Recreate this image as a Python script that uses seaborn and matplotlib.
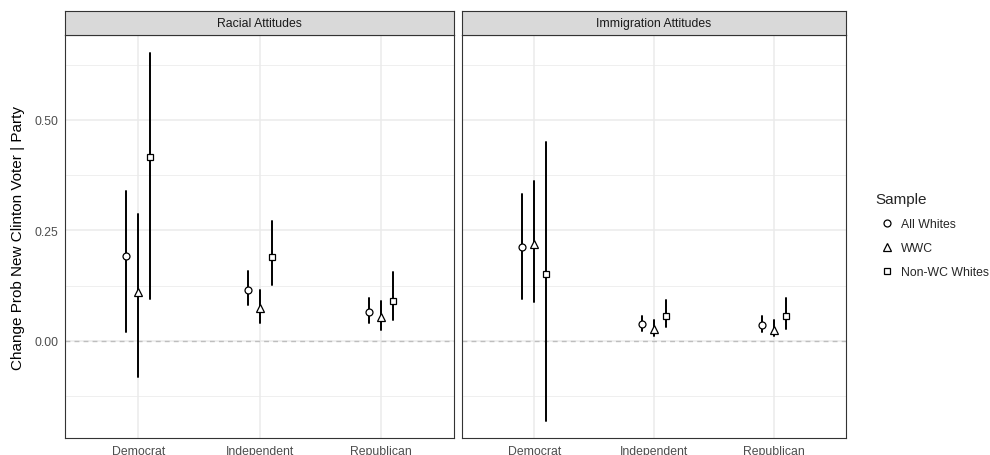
import numpy as np
import pandas as pd
import matplotlib
matplotlib.use("Agg")
import matplotlib.pyplot as plt
from matplotlib.lines import Line2D
import seaborn as sns

# ---- data -----------------------------------------------------------------
parties = ["Democrat", "Independent", "Republican"]
samples = ["All Whites", "WWC", "Non-WC Whites"]
panels = ["Racial Attitudes", "Immigration Attitudes"]

# Racial attitudes: estimate and 95% interval, ordered by party
racial_est_all = [0.192, 0.116, 0.066]
racial_lo_all = [0.020, 0.082, 0.040]
racial_hi_all = [0.339, 0.157, 0.097]
racial_est_wwc = [0.111, 0.075, 0.053]
racial_lo_wwc = [-0.081, 0.041, 0.024]
racial_hi_wwc = [0.287, 0.116, 0.090]
racial_est_nonwc = [0.417, 0.189, 0.091]
racial_lo_nonwc = [0.094, 0.126, 0.047]
racial_hi_nonwc = [0.652, 0.270, 0.155]

# Immigration attitudes
immig_est_all = [0.212, 0.038, 0.036]
immig_lo_all = [0.094, 0.022, 0.019]
immig_hi_all = [0.332, 0.057, 0.055]
immig_est_wwc = [0.219, 0.026, 0.025]
immig_lo_wwc = [0.087, 0.010, 0.010]
immig_hi_wwc = [0.362, 0.048, 0.047]
immig_est_nonwc = [0.151, 0.057, 0.057]
immig_lo_nonwc = [-0.181, 0.032, 0.026]
immig_hi_nonwc = [0.450, 0.092, 0.097]

y_ticks = [0.0, 0.25, 0.5]
y_ticklabels = ["0.00", "0.25", "0.50"]
y_label = "Change Prob New Clinton Voter | Party"

# Long table: lower bound, estimate and upper bound per group, so that the
# median is the estimate and the full percentile range is the interval.
tables = {
    "Racial Attitudes": {
        "All Whites": (racial_lo_all, racial_est_all, racial_hi_all),
        "WWC": (racial_lo_wwc, racial_est_wwc, racial_hi_wwc),
        "Non-WC Whites": (racial_lo_nonwc, racial_est_nonwc, racial_hi_nonwc),
    },
    "Immigration Attitudes": {
        "All Whites": (immig_lo_all, immig_est_all, immig_hi_all),
        "WWC": (immig_lo_wwc, immig_est_wwc, immig_hi_wwc),
        "Non-WC Whites": (immig_lo_nonwc, immig_est_nonwc, immig_hi_nonwc),
    },
}
rows = []
for panel in panels:
    for sample in samples:
        lo, est, hi = tables[panel][sample]
        for p, l, e, h in zip(parties, lo, est, hi):
            for v in (l, e, h):
                rows.append({"Panel": panel, "Sample": sample, "Party": p, "Change": v})
df = pd.DataFrame(rows)

# ---- style ----------------------------------------------------------------
sns.set_theme(style="white")
plt.rcParams["font.family"] = ["Liberation Sans", "DejaVu Sans"]

W, H = 990, 456
fig = plt.figure(figsize=(W / 100, H / 100), dpi=100)


def fig_box(x0, y0, x1, y1):
    return [x0 / W, 1 - y1 / H, (x1 - x0) / W, (y1 - y0) / H]


panel_px = [(65.3, 36, 454, 439), (462.3, 36, 845.7, 439)]
strip_top = 12
markers = ["o", "^", "s"]
marker_sizes = {"o": 5.0, "^": 6.2, "s": 4.4}
dark = "#333333"

for i, (panel, (x0, y0, x1, y1)) in enumerate(zip(panels, panel_px)):
    ax = fig.add_axes(fig_box(x0, y0, x1, y1))
    sub = df[df["Panel"] == panel]

    ax.axhline(0, color="#BEBEBE", lw=1.0, dashes=(3.5, 3), zorder=1)
    sns.pointplot(
        data=sub, x="Party", y="Change", hue="Sample",
        order=parties, hue_order=samples,
        estimator="median", errorbar=("pi", 100),
        dodge=0.2, markers=markers, linestyle="none",
        palette=["black"] * 3, markeredgewidth=0.9,
        err_kws={"linewidth": 1.4}, legend=False, ax=ax,
    )
    for ln in ax.lines:
        m = ln.get_marker()
        if m in marker_sizes:
            ln.set_markerfacecolor("white")
            ln.set_markeredgecolor("black")
            ln.set_markersize(marker_sizes[m])
            ln.set_zorder(4)
        elif ln.get_linestyle() != "--":
            ln.set_zorder(3)

    ax.set_xlim(-0.6, 2.6)
    ax.set_ylim(-0.22, 0.692)
    ax.set_yticks(y_ticks)
    ax.set_yticklabels(y_ticklabels)
    ax.set_yticks([-0.125, 0.125, 0.375, 0.625], minor=True)
    ax.set_axisbelow(True)
    ax.grid(which="major", color="#EBEBEB", lw=1.1)
    ax.grid(which="minor", axis="y", color="#EBEBEB", lw=0.55)
    ax.set_xlabel("")
    ax.set_ylabel("")
    ax.tick_params(which="major", length=2.75, width=0.8, color=dark,
                   labelsize=8.8, labelcolor="#4D4D4D", pad=2.2)
    ax.tick_params(which="minor", length=0)
    if i > 0:
        ax.tick_params(axis="y", left=False, labelleft=False)
    for s in ax.spines.values():
        s.set_visible(True)
        s.set_color(dark)
        s.set_linewidth(0.8)

    # facet strip
    sax = fig.add_axes(fig_box(x0, strip_top, x1, y0))
    sax.set_facecolor("#D9D9D9")
    sax.set_xticks([])
    sax.set_yticks([])
    for s in sax.spines.values():
        s.set_visible(True)
        s.set_color(dark)
        s.set_linewidth(0.8)
    sax.text(0.5, 0.5, panel, ha="center", va="center", fontsize=8.8,
             color="#1A1A1A", transform=sax.transAxes)

fig.text(18 / W, 1 - 237.5 / H, y_label, rotation=90, ha="center",
         va="center", fontsize=11, color="black")

handles = [
    Line2D([], [], marker=m, linestyle="none", markerfacecolor="white",
           markeredgecolor="black", markeredgewidth=0.9,
           markersize=marker_sizes[m])
    for m in markers
]
fig.legend(handles, samples, title="Sample", loc="upper left",
           bbox_to_anchor=(869 / W, 1 - 187 / H), frameon=False,
           fontsize=8.8, title_fontsize=11, alignment="left",
           borderpad=0, handlelength=1.9, handletextpad=0.25,
           labelspacing=0.98)

fig.savefig("out.png", dpi=100)
